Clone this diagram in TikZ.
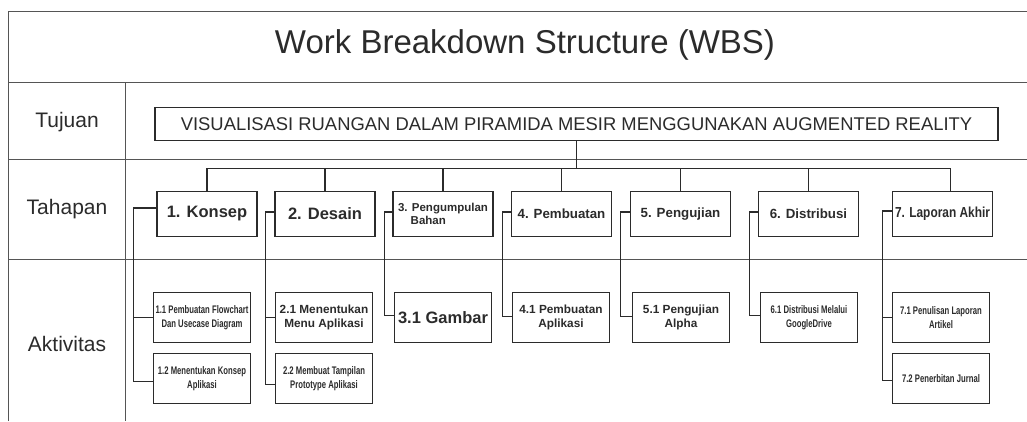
\documentclass[tikz,border=0pt]{standalone}
\usepackage{fontspec}
\setmainfont{Liberation Sans}
\newfontfamily\narrowfont[FakeStretch=0.70]{Liberation Sans}
\newfontfamily\semifont[FakeStretch=0.82]{Liberation Sans}
\usepackage{tikz}

\definecolor{ink}{HTML}{2B2B2B}
\definecolor{gridline}{HTML}{555555}

\tikzset{
  tline/.style={draw=gridline, line width=0.9pt},
  conn/.style={draw=ink, line width=1.4pt},
  rowlabel/.style={anchor=base, text=ink, font=\fontsize{21}{24}\selectfont},
  goalbox/.style={draw=ink, line width=1.6pt, text=ink, minimum width=843pt,
    minimum height=33pt, inner sep=0pt, font=\fontsize{18.4}{21}\selectfont},
  stagebox/.style={draw=ink, line width=1.6pt, text=ink, minimum width=100pt,
    minimum height=45pt, inner sep=1pt, align=center},
  actbox/.style={draw=ink, line width=1.6pt, text=ink, minimum width=97pt,
    minimum height=50pt, inner sep=1pt, align=center},
  bigbold/.style={font=\fontsize{16.5}{19}\selectfont\bfseries},
  midbold/.style={font=\fontsize{13.3}{15}\selectfont\bfseries},
  smallbold/.style={font=\fontsize{11.8}{13.5}\selectfont\bfseries},
  narrow/.style={font=\fontsize{11}{14}\selectfont\narrowfont\bfseries},
}

\begin{document}
\begin{tikzpicture}[x=1pt, y=-1pt]
  \useasboundingbox (0,0) rectangle (1027,421);

  % table grid
  \draw[tline] (8,421) -- (8,11) -- (1027,11);
  \draw[tline] (8,82) -- (1027,82);
  \draw[tline] (8,159) -- (1027,159);
  \draw[tline] (8,259) -- (1027,259);
  \draw[tline] (125,82) -- (125,421);

  \node[anchor=base, text=ink, font=\fontsize{33}{38}\selectfont] (title) at (525,53) {Work Breakdown Structure (WBS)};
  \node[rowlabel] (tujuan) at (67,127) {Tujuan};
  \node[rowlabel] (tahapan) at (67,214) {Tahapan};
  \node[rowlabel] (aktivitas) at (67,351) {Aktivitas};

  % goal
  \node[goalbox] (goal) at (576.5,124) {VISUALISASI RUANGAN DALAM PIRAMIDA MESIR MENGGUNAKAN AUGMENTED REALITY};

  % stages
  \node[stagebox, bigbold] (k1) at (207,214) {1. Konsep};
  \node[stagebox, bigbold] (k2) at (325,214) {2. Desain};
  \node[stagebox, align=left, font=\fontsize{11.5}{13}\selectfont\bfseries] (k3) at (443,214) {3. Pengumpulan\\\hspace*{1.1em}Bahan};
  \node[stagebox, midbold] (k4) at (561.5,214) {4. Pembuatan};
  \node[stagebox, midbold] (k5) at (680.5,214) {5. Pengujian};
  \node[stagebox, midbold] (k6) at (808.5,214) {6. Distribusi};
  \node[stagebox, font=\fontsize{14.5}{16}\selectfont\semifont\bfseries] (k7) at (942.5,214) {7. Laporan Akhir};

  % activities
  \node[actbox, narrow] (a11) at (202,317.5) {1.1 Pembuatan Flowchart\\Dan Usecase Diagram};
  \node[actbox, narrow] (a12) at (202,378.5) {1.2 Menentukan Konsep\\Aplikasi};
  \node[actbox, smallbold] (a21) at (324,317.5) {2.1 Menentukan\\Menu Aplikasi};
  \node[actbox, narrow] (a22) at (324,378.5) {2.2 Membuat Tampilan\\Prototype Aplikasi};
  \node[actbox, bigbold] (a31) at (443,317.5) {3.1 Gambar};
  \node[actbox, smallbold] (a41) at (561,317.5) {4.1 Pembuatan\\Aplikasi};
  \node[actbox, smallbold] (a51) at (681,317.5) {5.1 Pengujian\\Alpha};
  \node[actbox, narrow] (a61) at (809,317.5) {6.1 Distribusi Melalui\\GoogleDrive};
  \node[actbox, narrow] (a71) at (941,317.5) {7.1 Penulisan Laporan\\Artikel};
  \node[actbox, narrow] (a72) at (941,378.5) {7.2 Penerbitan Jurnal};

  % goal to stages
  \coordinate (bus) at ([yshift=-27pt]goal.south);
  \draw[conn] (goal.south) -- (bus);
  \foreach \k/\dx in {k1/0,k2/0,k3/0,k4/0,k5/0,k6/0,k7/8}
    \draw[conn] ([xshift=\dx pt]\k.north) |- (bus);

  % stages to activities
  \draw[conn] ([yshift=6pt]k1.west) -- ++(-23,0) coordinate (b1) |- ([yshift=-3pt]a12.west);
  \draw[conn] (b1) |- (a11.west);
  \draw[conn] ([yshift=2pt]k2.west) -- ++(-9,0) coordinate (b2) |- ([yshift=-6pt]a22.west);
  \draw[conn] (b2) |- (a21.west);
  \draw[conn] ([yshift=2pt]k3.west) -- ++(-8,0) |- ([yshift=2pt]a31.west);
  \draw[conn] ([yshift=2pt]k4.west) -- ++(-8,0) |- ([yshift=1pt]a41.west);
  \draw[conn] ([yshift=2pt]k5.west) -- ++(-9,0) |- ([yshift=1pt]a51.west);
  \draw[conn] ([yshift=2pt]k6.west) -- ++(-8,0) |- ([yshift=2pt]a61.west);
  \draw[conn] ([yshift=3pt]k7.west) -- ++(-9,0) coordinate (b7) |- ([yshift=-2pt]a72.west);
  \draw[conn] (b7) |- (a71.west);
\end{tikzpicture}
\end{document}
